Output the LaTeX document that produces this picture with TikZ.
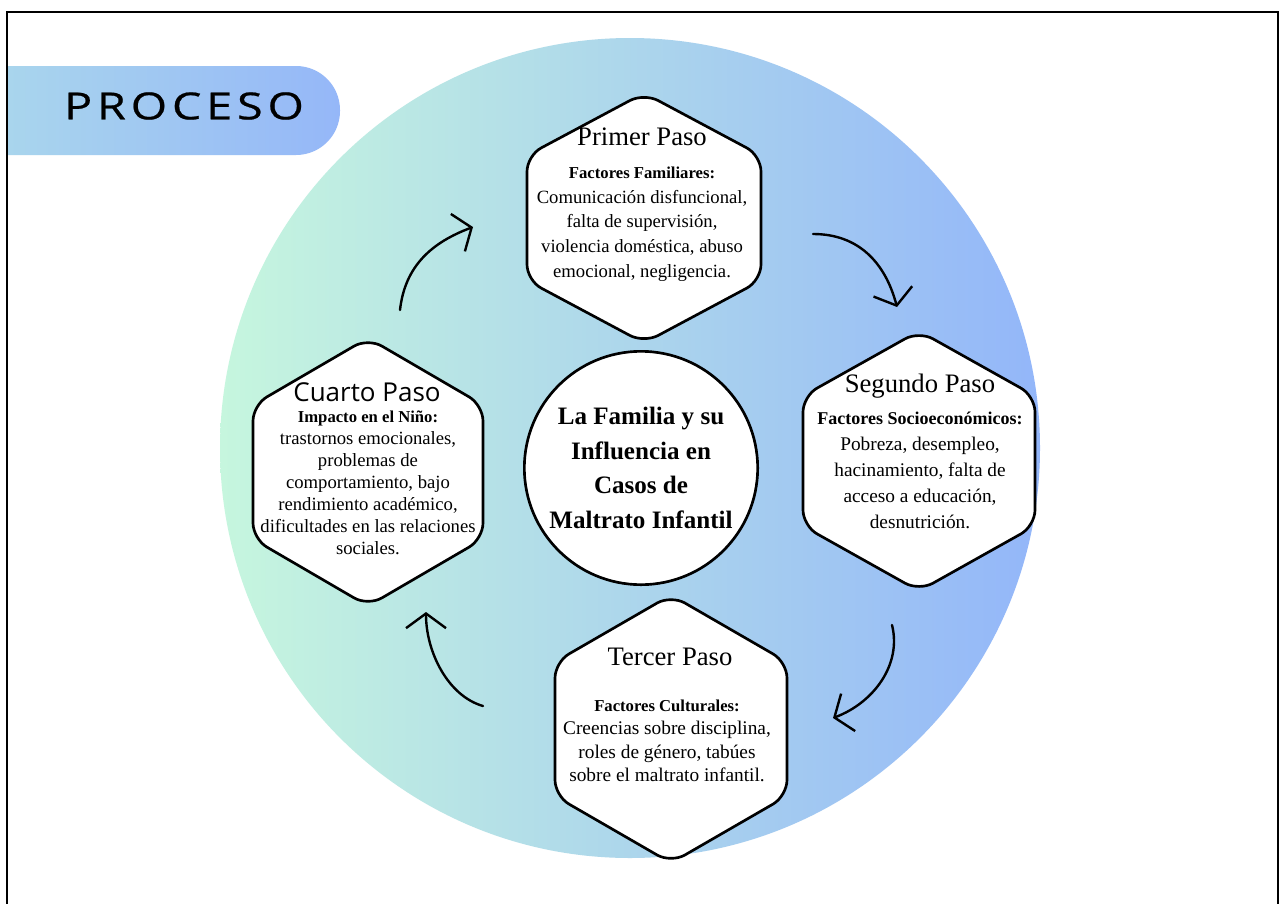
\documentclass[tikz,border=0pt]{standalone}
\usepackage{fontspec}
\setmainfont{Liberation Serif}
\newfontfamily\procesofont[FakeStretch=1.25,LetterSpace=13,FakeBold=0.6]{Open Sans}
\newfontfamily\opensans{Open Sans}
\usetikzlibrary{arrows.meta}

\definecolor{menta}{RGB}{198,246,222}
\definecolor{celeste}{RGB}{179,223,229}
\definecolor{azul}{RGB}{147,182,249}
\definecolor{pillizq}{RGB}{174,221,234}
\definecolor{pillder}{RGB}{149,183,248}

\tikzset{
  hexborde/.style={draw=black, line width=2pt, fill=white, rounded corners=12pt},
  pasotitulo/.style={anchor=base, inner sep=0pt, font=\fontsize{20}{24}\selectfont},
  pasotexto/.style={align=center, inner sep=0pt, font=\fontsize{14}{18.5}\selectfont},
  ciclo/.style={-{Straight Barb[length=11pt,width=30pt]}, line width=1.8pt, line cap=round},
}
\newcommand{\subtit}[1]{{\fontsize{12.5}{15}\selectfont\bfseries #1}}
\newcommand{\hexpaso}[4]{%
  \draw[hexborde] (#1,#2-#4) -- (#1+#3,#2-#4/2) -- (#1+#3,#2+#4/2) -- (#1,#2+#4)
    -- (#1-#3,#2+#4/2) -- (#1-#3,#2-#4/2) -- cycle;}

\begin{document}
\begin{tikzpicture}[x=0.75pt,y=-0.75pt]
  \useasboundingbox (0,0) rectangle (1287,903);
  \fill[white] (0,0) rectangle (1287,903);
  \begin{scope}
    \clip (8,13) rectangle (1277,903);
    \shade[left color=menta, middle color=celeste, right color=azul] (630,448) circle[radius=410];
    \shade[left color=pillizq, right color=pillder, rounded corners=33pt] (-80,66) rectangle (340,155);
  \end{scope}
  \draw[line width=1.5pt] (7,12) rectangle (1278,920);

  \draw (184,106) node[font=\procesofont\fontsize{28}{30}\selectfont] (proceso) {PROCESO};

  % flechas del ciclo
  \coordinate (f1a) at (400,310); \coordinate (f1b) at (473,227);
  \coordinate (f2a) at (813,234); \coordinate (f2b) at (897,307);
  \coordinate (f3a) at (892,625); \coordinate (f3b) at (833,718);
  \coordinate (f4a) at (483,706); \coordinate (f4b) at (426,612);
  \draw[ciclo] (f1a) .. controls +(5,-45) and +(-40,15) .. (f1b);
  \draw[ciclo] (f2a) .. controls +(45,0) and +(-12,-45) .. (f2b);
  \draw[ciclo] (f3a) .. controls +(10,40) and +(40,-15) .. (f3b);
  \draw[ciclo] (f4a) .. controls +(-35,-10) and +(0,40) .. (f4b);

  \hexpaso{644}{218}{117}{125}
  \hexpaso{919}{461}{116}{130}
  \hexpaso{368}{472}{115}{134}
  \hexpaso{671}{729}{116}{134}

  \draw (641,468) node[circle, draw, line width=2pt, fill=white, minimum size=175pt, inner sep=0pt,
    align=center, font=\fontsize{18.8}{26}\selectfont\bfseries] (familia)
    {La Familia y su\\Influencia en\\Casos de\\Maltrato Infantil};

  \draw (642,145) node[pasotitulo] (primerT) {Primer Paso};
  \draw (920,392) node[pasotitulo] (segundoT) {Segundo Paso};
  \draw (367,401) node[pasotitulo, font=\opensans\fontsize{19.5}{24}\selectfont] (cuartoT) {Cuarto Paso};
  \draw (670,665) node[pasotitulo] (tercerT) {Tercer Paso};

  \draw (642,224) node[pasotexto] (primerB)
    {\subtit{Factores Familiares:}\\Comunicación disfuncional,\\falta de supervisión,\\violencia doméstica, abuso\\emocional, negligencia.};
  \draw (920,470) node[pasotexto, font=\fontsize{14.5}{19.5}\selectfont] (segundoB)
    {{\fontsize{13.5}{16}\selectfont\bfseries Factores Socioeconómicos:}\\Pobreza, desempleo,\\hacinamiento, falta de\\acceso a educación,\\desnutrición.};
  \draw (368,483) node[pasotexto, font=\fontsize{14}{16.5}\selectfont] (cuartoB)
    {\subtit{Impacto en el Niño:}\\trastornos emocionales,\\problemas de\\comportamiento, bajo\\rendimiento académico,\\dificultades en las relaciones\\sociales.};
  \draw (667,741) node[pasotexto, font=\fontsize{14.5}{17.5}\selectfont] (tercerB)
    {\subtit{Factores Culturales:}\\Creencias sobre disciplina,\\roles de género, tabúes\\sobre el maltrato infantil.};
\end{tikzpicture}
\end{document}
